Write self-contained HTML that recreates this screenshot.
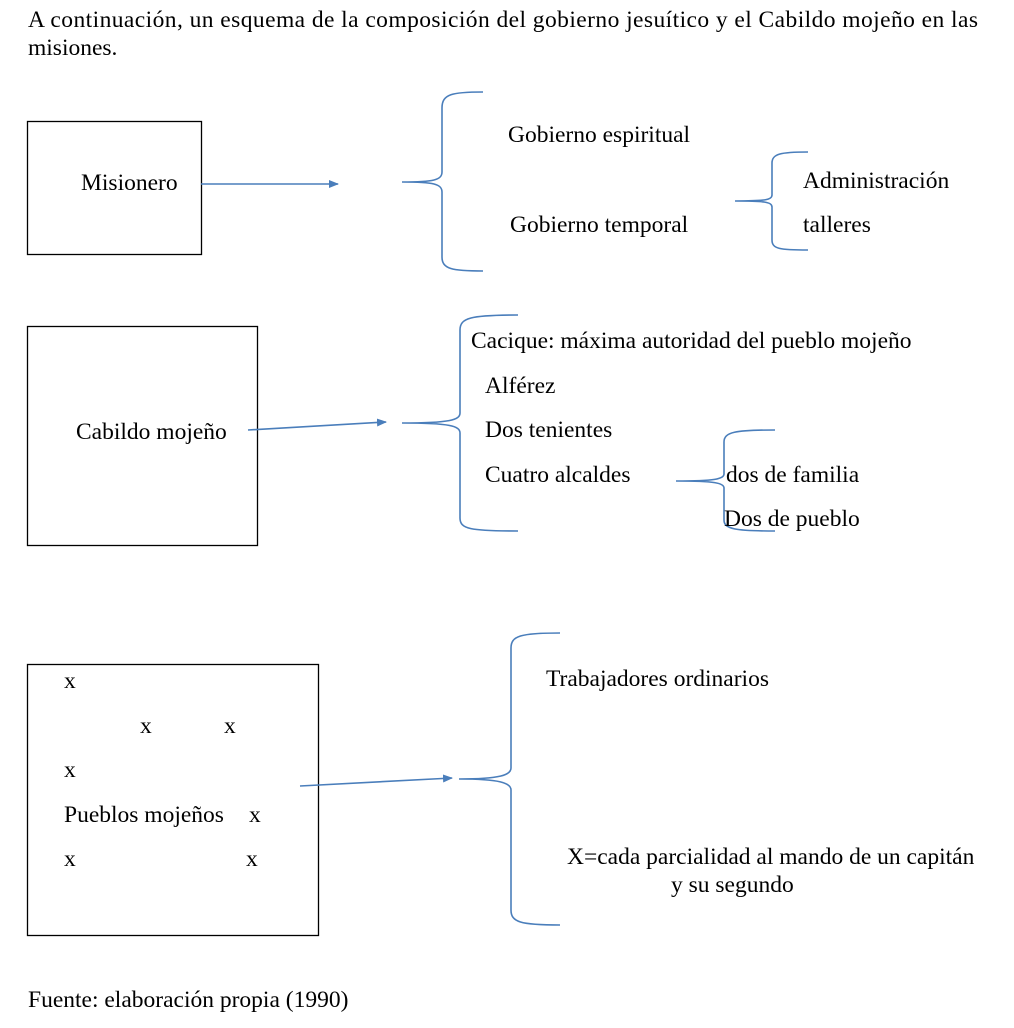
<!DOCTYPE html>
<html><head><meta charset="utf-8"><style>
html,body{margin:0;padding:0;background:#fff;}
svg text{font-family:"Liberation Serif",serif;font-size:23.5px;fill:#000;}
</style></head><body>
<svg width="1014" height="1023" xmlns="http://www.w3.org/2000/svg">
<defs><marker id="a" markerWidth="10" markerHeight="8" refX="9" refY="4" orient="auto" markerUnits="userSpaceOnUse"><path d="M0,0 L10,4 L0,8 z" fill="#4a7ebb"/></marker></defs>
<text x="28" y="27" textLength="950" lengthAdjust="spacing">A continuación, un esquema de la composición del gobierno jesuítico y el Cabildo mojeño en las</text>
<text x="28" y="55">misiones.</text>

<g fill="none" stroke="#000" stroke-width="1.3">
<rect x="27.5" y="121.5" width="174" height="133"/>
<rect x="27.5" y="326.5" width="230" height="219"/>
<rect x="27.5" y="664.5" width="291" height="271"/>
</g>
<g fill="none" stroke="#4a7ebb" stroke-width="1.6">
<line x1="201" y1="184" x2="338" y2="184" marker-end="url(#a)"/>
<line x1="248" y1="430" x2="386" y2="422" marker-end="url(#a)"/>
<line x1="300" y1="786" x2="452" y2="778" marker-end="url(#a)"/>
<path d="M483,92 C452,92 442,94 442,108 L442,172 C442,180 434,182 402,182 C434,182 442,184 442,192 L442,257 C442,269 452,271 483,271"/>
<path d="M808,152 C780,152 772,154 772,163 L772,195 C772,200 765,201 735,201 C765,201 772,202 772,207 L772,240 C772,249 780,250 808,250"/>
<path d="M518,315 C470,315 460,318 460,330 L460,413 C460,420 450,423 402,423 C450,423 460,426 460,433 L460,518 C460,529 470,531 518,531"/>
<path d="M775,430 C735,430 724,432 724,442 L724,474 C724,479 715,481 676,481 C715,481 724,483 724,488 L724,520 C724,529 735,531 775,531"/>
<path d="M560,633 C520,633 511,636 511,648 L511,768 C511,775 500,779 459,779 C500,779 511,783 511,790 L511,910 C511,922 520,925 560,925"/>
</g>

<text x="81" y="190">Misionero</text>
<text x="508" y="142">Gobierno espiritual</text>
<text x="510" y="232">Gobierno temporal</text>
<text x="803" y="188">Administración</text>
<text x="803" y="232">talleres</text>

<text x="76" y="439">Cabildo mojeño</text>
<text x="471" y="348">Cacique: máxima autoridad del pueblo mojeño</text>
<text x="485" y="393">Alférez</text>
<text x="485" y="437">Dos tenientes</text>
<text x="485" y="482">Cuatro alcaldes</text>
<text x="726" y="482">dos de familia</text>
<text x="724" y="526">Dos de pueblo</text>

<text x="64" y="688">x</text>
<text x="140" y="733">x</text>
<text x="224" y="733">x</text>
<text x="64" y="777">x</text>
<text x="64" y="822">Pueblos mojeños</text>
<text x="249" y="822">x</text>
<text x="64" y="866">x</text>
<text x="246" y="866">x</text>
<text x="546" y="686">Trabajadores ordinarios</text>
<text x="567" y="864">X=cada parcialidad al mando de un capitán</text>
<text x="671" y="892">y su segundo</text>

<text x="28" y="1007">Fuente: elaboración propia (1990)</text>
</svg>
</body></html>
